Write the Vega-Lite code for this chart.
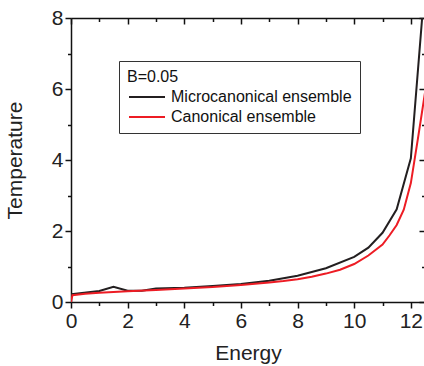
{
  "$schema": "https://vega.github.io/schema/vega-lite/v6.json",
  "width": 354,
  "height": 284,
  "autosize": {"type": "none"},
  "padding": {"left": 71, "top": 18, "right": 0, "bottom": 64},
  "background": "white",
  "config": {
    "font": "Liberation Sans",
    "view": {"stroke": null},
    "axis": {"grid": false, "domainColor": "#111", "domainWidth": 1.5, "tickColor": "#111", "tickWidth": 1.5, "labelFont": "Liberation Sans", "titleFont": "Liberation Sans", "labelColor": "#222", "titleColor": "#222", "titleFontWeight": "normal"}
  },
  "data": {
    "values": [
      {"E": 0, "T": 0.22, "ensemble": "Microcanonical ensemble"},
      {"E": 1, "T": 0.31, "ensemble": "Microcanonical ensemble"},
      {"E": 1.5, "T": 0.43, "ensemble": "Microcanonical ensemble"},
      {"E": 2, "T": 0.32, "ensemble": "Microcanonical ensemble"},
      {"E": 2.5, "T": 0.32, "ensemble": "Microcanonical ensemble"},
      {"E": 3, "T": 0.38, "ensemble": "Microcanonical ensemble"},
      {"E": 4, "T": 0.4, "ensemble": "Microcanonical ensemble"},
      {"E": 5, "T": 0.45, "ensemble": "Microcanonical ensemble"},
      {"E": 6, "T": 0.51, "ensemble": "Microcanonical ensemble"},
      {"E": 7, "T": 0.6, "ensemble": "Microcanonical ensemble"},
      {"E": 8, "T": 0.74, "ensemble": "Microcanonical ensemble"},
      {"E": 9, "T": 0.95, "ensemble": "Microcanonical ensemble"},
      {"E": 10, "T": 1.27, "ensemble": "Microcanonical ensemble"},
      {"E": 10.5, "T": 1.53, "ensemble": "Microcanonical ensemble"},
      {"E": 11, "T": 1.95, "ensemble": "Microcanonical ensemble"},
      {"E": 11.5, "T": 2.61, "ensemble": "Microcanonical ensemble"},
      {"E": 12, "T": 4.05, "ensemble": "Microcanonical ensemble"},
      {"E": 12.5, "T": 9.0, "ensemble": "Microcanonical ensemble"},
      {"E": 0, "T": 0.0, "ensemble": "Canonical ensemble"},
      {"E": 0.05, "T": 0.19, "ensemble": "Canonical ensemble"},
      {"E": 0.5, "T": 0.23, "ensemble": "Canonical ensemble"},
      {"E": 1, "T": 0.26, "ensemble": "Canonical ensemble"},
      {"E": 2, "T": 0.3, "ensemble": "Canonical ensemble"},
      {"E": 3, "T": 0.34, "ensemble": "Canonical ensemble"},
      {"E": 4, "T": 0.38, "ensemble": "Canonical ensemble"},
      {"E": 5, "T": 0.42, "ensemble": "Canonical ensemble"},
      {"E": 6, "T": 0.48, "ensemble": "Canonical ensemble"},
      {"E": 7, "T": 0.55, "ensemble": "Canonical ensemble"},
      {"E": 7.5, "T": 0.59, "ensemble": "Canonical ensemble"},
      {"E": 8, "T": 0.64, "ensemble": "Canonical ensemble"},
      {"E": 8.5, "T": 0.71, "ensemble": "Canonical ensemble"},
      {"E": 9, "T": 0.8, "ensemble": "Canonical ensemble"},
      {"E": 9.5, "T": 0.91, "ensemble": "Canonical ensemble"},
      {"E": 10, "T": 1.07, "ensemble": "Canonical ensemble"},
      {"E": 10.5, "T": 1.31, "ensemble": "Canonical ensemble"},
      {"E": 11, "T": 1.62, "ensemble": "Canonical ensemble"},
      {"E": 11.25, "T": 1.88, "ensemble": "Canonical ensemble"},
      {"E": 11.5, "T": 2.17, "ensemble": "Canonical ensemble"},
      {"E": 11.75, "T": 2.6, "ensemble": "Canonical ensemble"},
      {"E": 12, "T": 3.35, "ensemble": "Canonical ensemble"},
      {"E": 12.25, "T": 4.6, "ensemble": "Canonical ensemble"},
      {"E": 12.5, "T": 5.9, "ensemble": "Canonical ensemble"}
    ]
  },
  "resolve": {"axis": {"x": "independent", "y": "independent"}},
  "layer": [
    {
      "mark": {"type": "point", "opacity": 0, "clip": true},
      "encoding": {
        "x": {"field": "E", "type": "quantitative", "axis": {"orient": "top", "values": [0,1,2,3,4,5,6,7,8,9,10,11,12], "labels": false, "title": null, "domain": true, "tickSize": {"condition": {"test": "datum.value % 2 == 0", "value": -6}, "value": -3.5}}},
        "y": {"field": "T", "type": "quantitative", "axis": {"orient": "right", "values": [0,1,2,3,4,5,6,7,8], "labels": false, "title": null, "domain": true, "tickSize": {"condition": {"test": "datum.value % 2 == 0", "value": -6}, "value": -3.5}}}
      }
    },
    {
      "mark": {"type": "line", "strokeWidth": 2, "clip": true},
      "encoding": {
        "x": {"field": "E", "type": "quantitative", "scale": {"domain": [0, 12.5], "nice": false, "zero": false}, "axis": {"orient": "bottom", "title": "Energy", "titleFontSize": 21, "titlePadding": 11, "labelFontSize": 21, "labelPadding": 2, "labelFlush": false, "labelOverlap": false, "values": [0,1,2,3,4,5,6,7,8,9,10,11,12], "labelExpr": "datum.value % 2 == 0 ? datum.label : ''", "tickSize": {"condition": {"test": "datum.value % 2 == 0", "value": 6}, "value": 3.5}}},
        "y": {"field": "T", "type": "quantitative", "scale": {"domain": [0, 8], "nice": false}, "axis": {"orient": "left", "title": "Temperature", "titleFontSize": 21, "titlePadding": 26, "labelFontSize": 21, "labelPadding": 2, "labelFlush": false, "labelOverlap": false, "values": [0,1,2,3,4,5,6,7,8], "labelExpr": "datum.value % 2 == 0 ? datum.label : ''", "tickSize": {"condition": {"test": "datum.value % 2 == 0", "value": 6}, "value": 3.5}}},
        "color": {"field": "ensemble", "type": "nominal", "sort": ["Microcanonical ensemble", "Canonical ensemble"], "scale": {"domain": ["Microcanonical ensemble", "Canonical ensemble"], "range": ["#231f20", "#ed1c24"]},
          "legend": {"orient": "none", "legendX": 48, "legendY": 43, "title": "B=0.05", "titleFontSize": 16, "titleFontWeight": "normal", "titleColor": "#111", "titlePadding": 4, "labelFontSize": 16, "labelColor": "#111", "labelLimit": 400, "symbolType": "M-3,0H3", "symbolSize": 144, "symbolStrokeWidth": 2, "symbolOffset": 12, "labelOffset": 16, "padding": 8, "strokeColor": "#333", "fillColor": "white", "rowPadding": 4}
        }
      }
    }
  ]
}
